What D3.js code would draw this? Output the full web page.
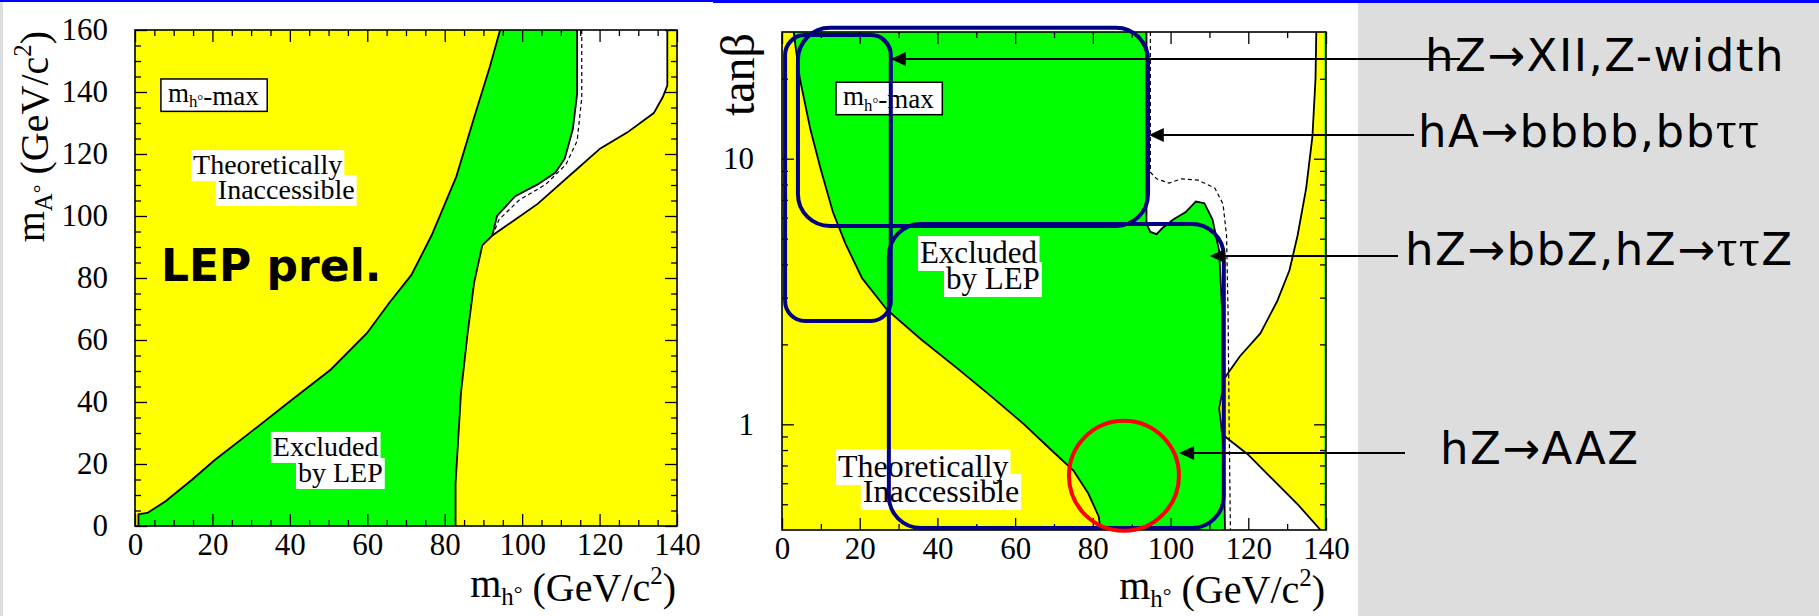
<!DOCTYPE html>
<html>
<head>
<meta charset="utf-8">
<script src="https://cdn.jsdelivr.net/npm/d3@7"></script>
<style>
  body { margin: 0; background: #fff; }
  svg { display: block; }
  .tick text { font-family: "Liberation Serif", serif; }
</style>
</head>
<body>
<svg id="chart" width="1819" height="616"></svg>
<script>
// ---------- left panel: mA vs mh (GeV) ----------
// lower-left theory boundary (bottom -> top)
var leftTheoryLow = [[0.9,0],[0.9,3.8],[3.2,4.2],[7.9,8],[14.8,15],[20.6,21.3],[29.8,30.2],[40.2,40.4],
  [50.6,50.5],[59.9,62.2],[65.7,72],[71.4,81],[76.6,93.7],[83,112.7],[87.6,131.8],[91.7,148.3],[94.3,160]];
// right theory boundary (bottom -> top)
var leftTheoryHigh = [[82.8,0],[82.8,13.7],[84.2,42.9],[85.9,62],[87.6,78.5],[89.7,90.5],[92.3,93.7],
  [104,103.9],[114.4,115.4],[120.2,121.8],[127.1,126.9],[134,133.2],[136.3,138.3],[137.5,142.1],[137.5,160]];
// observed exclusion edge (top -> bottom)
var leftObserved = [[114.2,160],[114.2,139.4],[113.1,128],[111,118.5],[108.6,114],[104,110.2],
  [98.2,106.4],[93.5,100],[92.3,93.7]];
// expected exclusion edge
var leftExpected = [[115.4,160],[115.4,138.2],[114.2,124.2],[111.3,116.6],[106.1,110.2],[99.2,105.1],
  [94,98.8],[92.8,95]];

// ---------- right panel: tanb vs mh ----------
var rightTheoryLow = [[3.0,30],[4.6,20],[7.3,12.9],[9.9,9.2],[13.1,6.3],[16.3,4.8],[20.6,3.55],[27,2.7],
  [35.6,2.1],[45.2,1.62],[53.7,1.28],[62.3,1.0],[69.7,0.79],[75,0.67],[78.8,0.55],[81.5,0.45],[82,0.4]];
var rightObserved = [[93.8,30],[93.8,5.7],[94.8,5.3],[96.4,5.2],[98,5.5],[100.7,5.9],[103.9,6.3],
  [106.5,6.9],[108.7,6.8],[110.8,5.9],[112.5,4.5],[113.3,2.6],[113.3,1.32],[112.5,1.15],[113,1.0],
  [113.7,0.79],[114,0.4]];
var rightExpected = [[94.8,30],[94.8,8.9],[96.4,8.4],[99.6,8.1],[102.8,8.4],[107.1,8.3],[111.4,7.75],
  [113.5,6.75],[114.4,5.15],[114.8,2.6],[115.1,0.94],[115.4,0.4]];
var rightTheoryUpper = [[114,1.5],[117.8,1.8],[123.1,2.2],[127.4,2.9],[130.6,3.8],[132.7,5.15],
  [134.9,7.75],[136.5,12.1],[137.3,20],[137.5,30]];
var rightTheoryLower = [[114,0.9],[119.9,0.77],[126.3,0.62],[132.7,0.5],[138.6,0.4]];

// tick values
var massMajor = [0,20,40,60,80,100,120,140];
var mAMajor = [0,20,40,60,80,100,120,140,160];
var tanbMajor = [1,10];
var tanbMinor = [0.5,0.6,0.7,0.8,0.9,2,3,4,5,6,7,8,9,20];

// channel annotations on the right panel (data units)
var channelNames = ['hZ\u2192XII,Z-width', 'hA\u2192bbbb,bb\u03c4\u03c4', 'hZ\u2192bbZ,hZ\u2192\u03c4\u03c4Z', 'hZ\u2192AAZ'];
var channelTips = [[28.0,23.7],[94.4,12.3],[110.1,4.3],[102.2,0.78]];
var channelBoxes = [[0.8,28.0,2.45,29.2],[4.1,94.2,5.58,31.1],[27.5,113.7,0.407,5.68]];
var aazCircle = [88.0,0.64];

// ---------- layout ----------
var svg = d3.select('#chart');
var W = 1819, H = 616;

svg.append('rect').attr('x', 1358).attr('y', 0).attr('width', W - 1358).attr('height', H).attr('fill', '#dddddd');
svg.append('rect').attr('x', 0).attr('y', 0).attr('width', 3).attr('height', H).attr('fill', '#dddddd');
svg.append('rect').attr('x', 0).attr('y', 0).attr('width', 713).attr('height', 2).attr('fill', '#0000ff');
svg.append('rect').attr('x', 713).attr('y', 0).attr('width', W - 713).attr('height', 3).attr('fill', '#0000ff');

var YELLOW = '#ffff00', GREEN = '#00ff00';
var serif = '"Liberation Serif", "Times New Roman", serif';

var xL = d3.scaleLinear().domain([0,140]).range([135,677]);
var yL = d3.scaleLinear().domain([0,160]).range([526,30]);
var xR = d3.scaleLinear().domain([0,140]).range([782,1326]);
var yR = d3.scaleLog().domain([0.4,30]).range([530,32]);

function addClip(id, x, y) {
  svg.append('clipPath').attr('id', id).append('rect')
    .attr('x', x.range()[0]).attr('y', y.range()[1])
    .attr('width', x.range()[1] - x.range()[0]).attr('height', y.range()[0] - y.range()[1]);
}
addClip('clipL', xL, yL);
addClip('clipR', xR, yR);

function drawArea(g, pts, x, y, fill) {
  g.append('path')
    .attr('d', d3.line().x(function(d){ return x(d[0]); }).y(function(d){ return y(d[1]); })(pts) + 'Z')
    .attr('fill', fill).attr('stroke', 'none');
}
function drawLine(g, pts, x, y, dashed) {
  g.append('path')
    .attr('d', d3.line().x(function(d){ return x(d[0]); }).y(function(d){ return y(d[1]); })(pts))
    .attr('fill', 'none').attr('stroke', '#000')
    .attr('stroke-width', dashed ? 1.2 : 1.8)
    .attr('stroke-dasharray', dashed ? '4,3' : null);
}

// subscripted mass label like m_h°
function massLabel(sel, sub, size) {
  sel.append('tspan').text('m');
  sel.append('tspan').attr('font-size', size * 0.62).attr('dy', size * 0.2).text(sub);
  sel.append('tspan').attr('font-size', size * 0.55).attr('dy', -size * 0.1).text('\u00b0');
  sel.append('tspan').attr('dy', -size * 0.1).text('');
}
function gevLabel(sel, size) {
  sel.append('tspan').attr('dx', size * 0.25).text('(GeV/c');
  sel.append('tspan').attr('font-size', size * 0.62).attr('dy', -size * 0.42).text('2');
  sel.append('tspan').attr('dy', size * 0.42).text(')');
}

// text lines on white patches
function labelBox(g, x, y, lines, size, pad) {
  var bg = g.append('g'), fg = g.append('g');
  lines.forEach(function(l) {
    var t = fg.append('text').attr('x', x(l[1])).attr('y', y(l[2]))
      .attr('font-family', serif).attr('font-size', size).text(l[0]);
    var b = t.node().getBBox();
    bg.append('rect').attr('x', b.x - pad).attr('y', b.y + 1).attr('width', b.width + 2 * pad).attr('height', b.height)
      .attr('fill', '#fff');
  });
}
function maxBox(g, xp, yp, size) {
  var t = g.append('text').attr('x', xp).attr('y', yp)
    .attr('font-family', serif).attr('font-size', size);
  massLabel(t, 'h', size);
  t.append('tspan').text('-max');
  var b = t.node().getBBox();
  g.insert('rect', function(){ return t.node(); })
    .attr('x', b.x - 7).attr('y', yp - size * 0.85).attr('width', b.width + 15).attr('height', size * 1.2)
    .attr('fill', '#fff').attr('stroke', '#000').attr('stroke-width', 1.5);
}

function frameAndTicks(g, x, y, xMinorStep, yMinor, yMajor) {
  var xMinor = d3.range(0, 140.1, xMinorStep).filter(function(v){ return massMajor.indexOf(v) < 0; });
  var top = y.range()[1], bottom = y.range()[0], left = x.range()[0], right = x.range()[1];
  var defs = [
    [d3.axisBottom(x), bottom, 0, xMinor, massMajor],
    [d3.axisTop(x), top, 0, xMinor, massMajor],
    [d3.axisLeft(y), 0, left, yMinor, yMajor],
    [d3.axisRight(y), 0, right, yMinor, yMajor]
  ];
  defs.forEach(function(d) {
    [[d[3], -6], [d[4], -12]].forEach(function(s) {
      g.append('g').attr('transform', 'translate(' + d[2] + ',' + d[1] + ')')
        .call(d[0].tickValues(s[0]).tickSize(s[1]).tickSizeOuter(0).tickFormat(''))
        .call(function(a){ a.select('.domain').remove(); a.selectAll('line').attr('stroke-width', 1.3); });
    });
  });
  g.append('rect').attr('x', left).attr('y', top).attr('width', right - left).attr('height', bottom - top)
    .attr('fill', 'none').attr('stroke', '#000').attr('stroke-width', 1.6);
  g.append('g').attr('transform', 'translate(0,' + bottom + ')')
    .call(d3.axisBottom(x).tickValues(massMajor).tickSize(0).tickPadding(7).tickFormat(d3.format('d')))
    .call(function(a){ a.select('.domain').remove(); a.selectAll('text').attr('font-size', 31).attr('fill', '#000'); });
}

// ================= LEFT PANEL =================
var gL = svg.append('g');
var pL = gL.append('g').attr('clip-path', 'url(#clipL)');
pL.append('rect').attr('x', 135).attr('y', 30).attr('width', 542).attr('height', 496).attr('fill', YELLOW);
drawArea(pL, [[100,160]].concat(leftTheoryHigh.slice(6)), xL, yL, '#fff');
drawArea(pL, leftTheoryLow.concat(leftObserved, leftTheoryHigh.slice(0,6).reverse()), xL, yL, GREEN);
drawLine(pL, leftTheoryLow, xL, yL, false);
drawLine(pL, leftTheoryHigh, xL, yL, false);
drawLine(pL, leftObserved, xL, yL, false);
drawLine(pL, leftExpected, xL, yL, true);

frameAndTicks(gL, xL, yL, 5, d3.range(5, 160, 5).filter(function(v){ return v % 20; }), mAMajor);
gL.append('g').attr('transform', 'translate(135,0)')
  .call(d3.axisLeft(yL).tickValues(mAMajor).tickSize(0).tickPadding(27).tickFormat(d3.format('d')))
  .call(function(a){ a.select('.domain').remove(); a.selectAll('text').attr('font-size', 31).attr('fill', '#000'); });

labelBox(gL, xL, yL, [['Theoretically', 15.0, 113.5], ['Inaccessible', 21.4, 105.5]], 28, 2);
labelBox(gL, xL, yL, [['Excluded', 35.6, 22.6], ['by LEP', 42.1, 14.2]], 28, 2);
maxBox(gL, xL(8.5), yL(136.8), 27);
gL.append('text').attr('x', xL(6.7)).attr('y', yL(79.0))
  .attr('font-family', '"DejaVu Sans", Verdana, sans-serif').attr('font-weight', 'bold')
  .attr('font-size', 44).text('LEP prel.');

// axis titles
var tyL = gL.append('text').attr('transform', 'translate(44,31) rotate(-90)')
  .attr('text-anchor', 'end').attr('font-family', serif).attr('font-size', 40);
massLabel(tyL, 'A', 40); gevLabel(tyL, 40);
var txL = gL.append('text').attr('x', 676).attr('y', 597)
  .attr('text-anchor', 'end').attr('font-family', serif).attr('font-size', 40);
massLabel(txL, 'h', 40); gevLabel(txL, 40);

// ================= RIGHT PANEL =================
var gR = svg.append('g');
var pR = gR.append('g').attr('clip-path', 'url(#clipR)');
pR.append('rect').attr('x', 782).attr('y', 32).attr('width', 544).attr('height', 498).attr('fill', YELLOW);
drawArea(pR, [[85,30],[137.5,30]].concat(rightTheoryUpper.slice().reverse(), [[85,1.5]]), xR, yR, '#fff');
drawArea(pR, [[100,0.9]].concat(rightTheoryLower, [[100,0.4]]), xR, yR, '#fff');
drawArea(pR, rightTheoryLow.concat(rightObserved.slice().reverse()), xR, yR, GREEN);
pR.append('rect').attr('x', xR(139.6)).attr('y', 32).attr('width', xR(140) - xR(139.6)).attr('height', 498).attr('fill', GREEN);
drawLine(pR, rightTheoryLow, xR, yR, false);
drawLine(pR, rightObserved, xR, yR, false);
drawLine(pR, rightTheoryUpper, xR, yR, false);
drawLine(pR, rightTheoryLower, xR, yR, false);
drawLine(pR, rightExpected, xR, yR, true);

frameAndTicks(gR, xR, yR, 10, tanbMinor, tanbMajor);
gR.append('g').attr('transform', 'translate(782,0)')
  .call(d3.axisLeft(yR).tickValues(tanbMajor).tickSize(0).tickPadding(28).tickFormat(d3.format('d')))
  .call(function(a){ a.select('.domain').remove(); a.selectAll('text').attr('font-size', 31).attr('fill', '#000'); });

labelBox(gR, xR, yR, [['Excluded', 35.5, 4.05], ['by LEP', 42.2, 3.23]], 31, 2);
labelBox(gR, xR, yR, [['Theoretically', 14.4, 0.633], ['Inaccessible', 20.8, 0.51]], 32, 2);
maxBox(gR, xR(15.7), yR(15.9), 27);

gR.append('text').attr('transform', 'translate(754,33) rotate(-90)')
  .attr('text-anchor', 'end').attr('font-family', serif).attr('font-size', 48).text('tan\u03b2');
var txR = gR.append('text').attr('x', 1325).attr('y', 599)
  .attr('text-anchor', 'end').attr('font-family', serif).attr('font-size', 40);
massLabel(txR, 'h', 40); gevLabel(txR, 40);

// channel boxes and circle
gR.selectAll('rect.chbox').data(channelBoxes).enter().append('rect')
  .attr('class', 'chbox')
  .attr('x', function(d){ return xR(d[0]); })
  .attr('y', function(d){ return yR(d[3]); })
  .attr('width', function(d){ return xR(d[1]) - xR(d[0]); })
  .attr('height', function(d){ return yR(d[2]) - yR(d[3]); })
  .attr('rx', function(d, i){ return i === 0 ? 20 : 32; })
  .attr('fill', 'none').attr('stroke', '#000080').attr('stroke-width', 4);
gR.append('circle').attr('cx', xR(aazCircle[0])).attr('cy', yR(aazCircle[1])).attr('r', 55)
  .attr('fill', 'none').attr('stroke', '#ff0000').attr('stroke-width', 4);

// ================= channel labels and arrows =================
var labelPos = [[1425, 71, 1460], [1418, 147, 1414], [1405, 265, 1398], [1440, 464, 1405]];
var gA = svg.append('g');
channelNames.forEach(function(name, i) {
  var p = labelPos[i];
  var t = gA.append('text').attr('x', p[0]).attr('y', p[1])
    .attr('font-family', '"DejaVu Sans", Verdana, sans-serif').attr('font-size', 45)
    .attr('letter-spacing', 1.5).attr('fill', '#000');
  name.split(/(\u03c4+)/).forEach(function(part) {
    if (!part) return;
    var s = t.append('tspan').text(part);
    if (part.charAt(0) === '\u03c4') s.attr('font-family', serif).attr('font-size', 52);
  });
  var tx = xR(channelTips[i][0]), ty = yR(channelTips[i][1]);
  var ly = Math.round(ty);
  gA.append('line').attr('x1', p[2]).attr('y1', ly).attr('x2', tx + 12).attr('y2', ly)
    .attr('stroke', '#000').attr('stroke-width', 2);
  gA.append('path').attr('d', 'M' + tx + ',' + ly + 'l15,-7l0,14z').attr('fill', '#000');
});
</script>
</body>
</html>
